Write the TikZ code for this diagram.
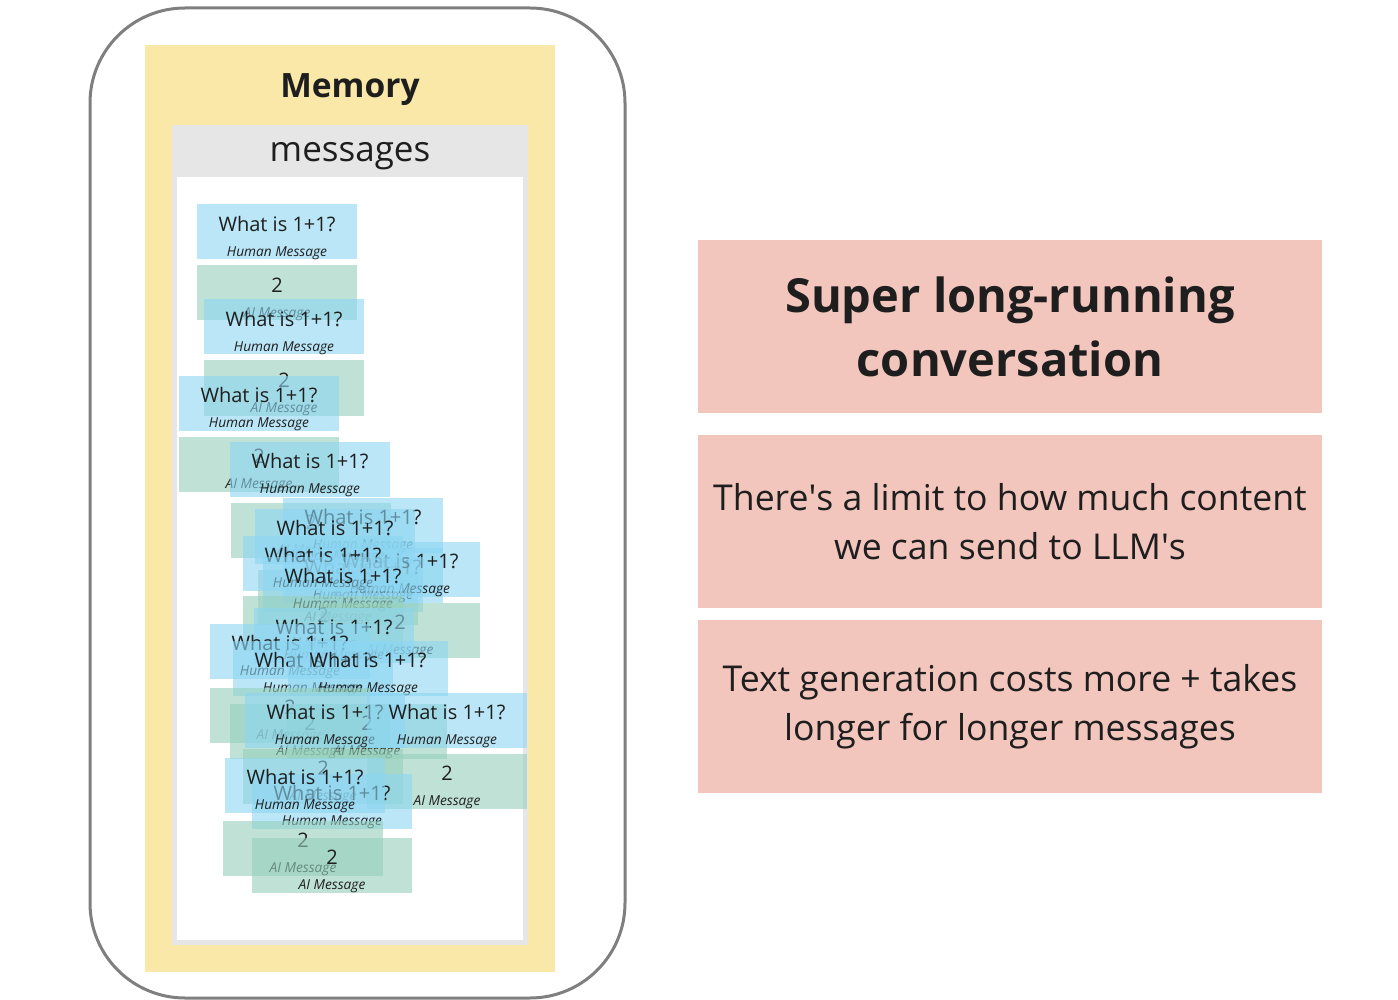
\documentclass[tikz,border=0pt]{standalone}
\usepackage{fontspec}
\setmainfont{Open Sans}
\definecolor{framegray}{HTML}{7F7F7F}
\definecolor{memyellow}{HTML}{FAE8A8}
\definecolor{headgray}{HTML}{E6E6E6}
\definecolor{notepink}{HTML}{F2C6BD}
\definecolor{humanblue}{RGB}{140,214,243}
\definecolor{aigreen}{RGB}{150,208,188}
\definecolor{inkdark}{HTML}{1E1E1E}
\tikzset{
  msgbox/.style={minimum width=160pt, minimum height=55pt, inner sep=0pt, fill opacity=0.6},
  maintext/.style={font=\fontsize{20}{24}\selectfont, text=inkdark, text opacity=1, yshift=8pt},
  tagtext/.style={font=\fontsize{13.7}{16}\selectfont\itshape, text=inkdark, text opacity=1, yshift=-21pt},
  humanmsg/.style={msgbox, fill=humanblue,
    label={[maintext]center:What is 1+1?},
    label={[tagtext]center:Human Message}},
  aimsg/.style={msgbox, fill=aigreen,
    label={[maintext]center:2},
    label={[tagtext]center:AI Message}},
  notebox/.style={fill=notepink, minimum width=624pt, minimum height=173pt, align=center, text=inkdark}
}
\begin{document}
\begin{tikzpicture}[x=1pt, y=-1pt]
\useasboundingbox (0,0) rectangle (1398,1000);

% memory store
\node[draw=framegray, line width=3pt, rounded corners=95pt, minimum width=535pt, minimum height=990pt] (frame) at (357.5,503) {};
\node[fill=memyellow, minimum width=410pt, minimum height=927pt] (memory) at (350,508.5) {};
\node[font=\fontsize{33.5}{38}\selectfont\bfseries, text=inkdark] (memtitle) at (350,90) {Memory};
\node[fill=headgray, minimum width=356pt, minimum height=820pt] (list) at (350,535) {};
\node[fill=white, minimum width=346pt, minimum height=763pt] (listbody) at (350,558.5) {};
\node[font=\fontsize{35}{40}\selectfont, text=inkdark] (listtitle) at (350,156) {messages};

% the pile of messages
\foreach \kind/\cx/\cy [count=\i] in {
  humanmsg/277/232, aimsg/277/293, humanmsg/284/327, aimsg/284/388,
  humanmsg/259/403, aimsg/259/464, humanmsg/310/469, aimsg/311/530,
  aimsg/338/597, humanmsg/363/525, humanmsg/335/536, humanmsg/363/575,
  humanmsg/400/569, humanmsg/323/563, humanmsg/343/584, aimsg/323/623,
  aimsg/400/630, humanmsg/334/635, humanmsg/290/651, humanmsg/313/668,
  humanmsg/368/668, aimsg/290/715, aimsg/310/731, aimsg/367/731,
  humanmsg/325/720, humanmsg/447/720, aimsg/447/781, aimsg/323/776,
  humanmsg/332/801, humanmsg/305/785, aimsg/303/848, aimsg/332/865}
  \node[\kind] (msg\i) at (\cx,\cy) {};

% notes
\node[notebox, font=\fontsize{47}{64}\selectfont\bfseries] (longrun) at (1010,326.5) {Super long-running\\conversation};
\node[notebox, font=\fontsize{35.6}{49}\selectfont] (limit) at (1010,521.5) {There\textquotesingle s a limit to how much content\\we can send to LLM\textquotesingle s};
\node[notebox, font=\fontsize{35.6}{49}\selectfont] (cost) at (1010,706.5) {Text generation costs more + takes\\longer for longer messages};
\end{tikzpicture}
\end{document}
